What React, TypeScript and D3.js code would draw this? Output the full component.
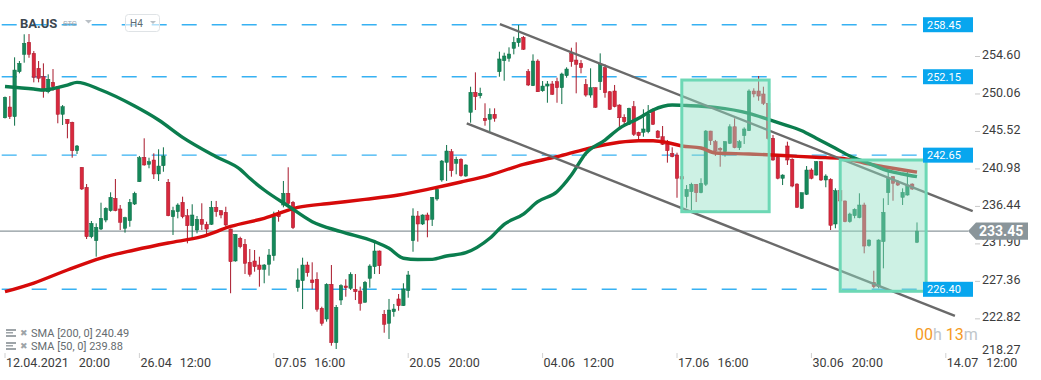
import React from "react";
import * as d3 from "d3";

// ---- candle data (BA.US, H4) ----
const openP = [
  247.18, 248.48, 247.31, 252.76, 254.86, 256.32, 254.98, 253.17, 252.15, 250.33,
  251.47, 250.94, 247.60, 246.99, 246.63, 243.19, 241.18, 238.75, 232.77, 232.29,
  233.70, 234.79, 235.92, 237.42, 236.13, 233.79, 234.71, 236.73, 239.43, 242.39,
  241.54, 242.06, 240.37, 241.37, 239.36, 235.19, 235.80, 236.94, 235.31, 234.10,
  233.58, 234.88, 234.27, 234.27, 236.33, 235.92, 235.73, 233.70, 229.83, 232.58,
  231.85, 229.67, 229.83, 229.34, 228.82, 229.43, 230.47, 235.61, 236.61, 238.03,
  236.94, 226.59, 227.44, 229.34, 227.53, 227.61, 224.10, 222.80, 227.01, 219.93,
  225.10, 226.80, 226.52, 226.40, 226.19, 224.83, 227.73, 229.14, 231.04, 223.37,
  222.28, 223.69, 225.23, 224.41, 226.23, 232.29, 235.28, 234.31, 235.40, 234.88,
  237.34, 239.64, 241.78, 243.07, 241.66, 242.15, 240.12, 247.84, 250.26, 249.85,
  247.11, 246.99, 247.60, 252.76, 254.09, 254.38, 255.59, 256.27, 256.92, 252.76,
  251.06, 254.05, 250.45, 251.02, 251.27, 251.55, 250.82, 252.27, 254.98, 254.17,
  253.77, 251.23, 249.93, 250.82, 251.55, 253.24, 250.33, 250.42, 248.72, 247.23,
  246.39, 248.52, 245.42, 245.42, 245.49, 248.00, 245.57, 244.88, 244.00, 242.87,
  242.67, 240.04, 237.62, 238.22, 239.12, 238.10, 239.12, 245.57, 244.28, 243.48,
  243.07, 244.08, 246.09, 243.55, 245.01, 245.61, 250.42, 250.42, 250.06, 248.93,
  244.69, 242.39, 239.85, 243.76, 242.15, 239.15, 236.21, 237.91, 240.85, 240.24,
  241.86, 239.64, 239.72, 234.31, 238.34, 237.10, 234.59, 235.31, 235.07, 236.61,
  231.68, 227.25, 226.72, 232.17, 238.10, 240.04, 239.43, 237.54, 237.82, 239.15,
  232.10,
];
const highP = [
  249.75, 249.81, 254.50, 254.05, 257.29, 257.32, 255.26, 254.05, 253.77, 252.44,
  253.08, 250.94, 248.72, 246.99, 246.70, 243.88, 241.18, 239.15, 234.67, 234.39,
  236.89, 236.33, 238.15, 239.76, 236.61, 235.19, 237.34, 238.22, 242.55, 244.69,
  242.34, 242.87, 243.36, 243.60, 239.76, 236.40, 236.82, 237.62, 236.13, 236.70,
  235.28, 236.82, 234.59, 237.10, 237.10, 236.00, 236.40, 233.75, 233.10, 232.77,
  232.49, 231.28, 231.16, 230.35, 229.46, 231.28, 235.80, 236.00, 239.52, 241.18,
  237.10, 228.94, 230.23, 229.74, 229.67, 228.46, 224.29, 227.13, 229.34, 224.50,
  227.01, 227.61, 228.46, 228.25, 226.72, 227.41, 229.43, 232.17, 231.10, 223.89,
  225.23, 224.62, 225.83, 227.13, 228.62, 236.21, 235.88, 235.48, 235.68, 237.58,
  238.63, 242.06, 243.88, 243.39, 242.46, 242.27, 241.54, 250.94, 252.68, 250.82,
  248.93, 248.32, 248.32, 255.18, 255.06, 255.71, 257.00, 258.41, 257.08, 253.08,
  254.86, 254.26, 251.63, 251.63, 251.63, 252.03, 252.64, 253.29, 255.66, 256.32,
  254.17, 251.87, 253.17, 250.85, 254.98, 253.65, 250.42, 251.15, 248.81, 247.60,
  248.40, 249.21, 245.49, 248.20, 248.72, 248.32, 245.69, 246.18, 244.49, 243.60,
  242.95, 240.12, 239.03, 239.31, 239.15, 239.85, 245.69, 245.60, 244.49, 243.60,
  244.36, 246.39, 247.11, 244.49, 246.02, 250.62, 250.75, 252.23, 250.94, 248.95,
  245.09, 242.55, 240.33, 244.28, 242.27, 239.24, 238.12, 241.33, 241.06, 241.94,
  241.94, 240.33, 239.85, 238.63, 238.60, 237.15, 235.68, 236.21, 238.03, 236.89,
  232.45, 228.65, 232.45, 237.42, 240.64, 240.12, 239.64, 238.63, 240.64, 239.24,
  234.50,
];
const lowP = [
  247.09, 247.03, 246.22, 252.56, 253.85, 254.45, 251.47, 251.47, 249.61, 250.14,
  250.45, 246.51, 246.30, 244.69, 242.34, 242.79, 238.43, 232.49, 232.58, 230.35,
  233.58, 234.52, 235.80, 235.85, 233.58, 233.26, 233.98, 236.61, 239.40, 241.37,
  241.06, 239.76, 239.52, 240.64, 235.25, 232.98, 235.00, 235.00, 231.97, 232.58,
  233.18, 233.58, 233.06, 234.19, 235.19, 235.00, 233.98, 225.92, 229.75, 231.37,
  228.25, 227.93, 228.53, 226.72, 227.13, 228.05, 229.86, 234.59, 236.33, 236.40,
  233.70, 226.11, 224.01, 227.93, 226.40, 223.69, 221.99, 222.48, 219.57, 219.17,
  224.50, 225.50, 226.32, 225.10, 223.81, 224.78, 226.59, 228.25, 228.25, 221.14,
  220.38, 223.08, 223.81, 224.38, 225.38, 230.95, 232.17, 234.19, 232.70, 234.07,
  237.13, 239.43, 239.52, 240.04, 240.33, 240.04, 240.04, 246.58, 248.12, 249.53,
  246.22, 245.49, 246.70, 252.15, 251.67, 253.97, 254.86, 255.78, 255.40, 251.02,
  251.02, 250.30, 250.33, 249.00, 249.94, 249.00, 248.84, 252.03, 253.36, 250.14,
  252.56, 249.73, 249.61, 248.40, 250.54, 249.61, 248.12, 248.44, 245.97, 246.18,
  246.30, 244.97, 244.49, 244.88, 245.30, 246.30, 244.69, 243.88, 241.74, 242.39,
  237.49, 239.64, 236.28, 236.00, 236.97, 238.03, 238.91, 243.88, 242.55, 241.25,
  242.46, 244.00, 243.48, 243.27, 244.00, 245.57, 249.66, 249.24, 248.72, 244.50,
  241.98, 239.72, 239.03, 241.46, 238.76, 236.28, 236.13, 237.82, 239.72, 240.16,
  239.52, 238.76, 233.58, 233.79, 236.80, 234.52, 234.47, 235.00, 235.00, 230.76,
  231.56, 226.52, 226.52, 228.94, 236.61, 237.13, 238.91, 236.61, 237.74, 238.43,
  232.00,
];
const closeP = [
  249.66, 247.31, 252.96, 253.77, 256.20, 254.86, 252.08, 251.96, 250.42, 251.84,
  250.94, 247.60, 248.52, 246.46, 243.19, 243.76, 238.55, 232.77, 234.39, 233.91,
  235.00, 236.21, 237.54, 235.92, 234.52, 235.07, 236.94, 238.03, 242.34, 241.46,
  241.86, 240.37, 241.33, 242.55, 235.31, 235.92, 236.61, 235.19, 234.10, 235.40,
  234.88, 234.27, 233.70, 236.33, 235.80, 235.40, 234.19, 229.74, 233.06, 231.56,
  229.55, 228.22, 229.14, 228.82, 229.34, 230.55, 235.19, 235.19, 238.03, 236.82,
  233.86, 227.53, 229.34, 228.41, 227.20, 223.98, 222.28, 227.01, 219.93, 224.22,
  226.84, 226.59, 228.22, 226.11, 224.70, 227.25, 229.22, 231.04, 229.26, 222.16,
  223.89, 224.01, 224.41, 226.44, 228.13, 235.28, 234.31, 235.40, 234.79, 237.54,
  238.51, 241.94, 243.15, 240.77, 242.15, 240.16, 241.46, 250.26, 249.73, 250.14,
  246.82, 247.60, 247.11, 254.30, 254.66, 254.90, 256.32, 256.80, 255.47, 251.15,
  254.05, 250.33, 251.02, 251.27, 250.02, 250.82, 252.48, 253.08, 253.97, 253.65,
  253.24, 249.93, 250.82, 248.44, 253.65, 250.21, 248.20, 248.52, 247.18, 246.70,
  248.32, 245.17, 245.01, 245.82, 247.60, 246.39, 244.76, 243.96, 243.19, 242.46,
  239.85, 239.76, 238.51, 239.12, 238.10, 239.24, 245.57, 244.40, 243.15, 243.27,
  244.28, 246.09, 243.55, 244.28, 245.82, 250.42, 250.06, 249.81, 248.93, 244.69,
  242.06, 239.85, 240.24, 242.06, 238.91, 236.33, 238.10, 240.85, 239.85, 241.86,
  239.64, 240.12, 234.15, 238.34, 237.10, 234.59, 235.52, 236.09, 236.61, 231.64,
  232.37, 226.72, 232.37, 235.73, 239.97, 239.24, 239.03, 238.15, 239.03, 238.55,
  233.45,
];

// ---- moving averages ----
const sma200Idx = [0, 6, 13, 20, 27, 34, 41, 47, 54, 61, 68, 75, 82, 89, 95, 101, 108, 115, 121, 128, 132, 135, 138, 141, 145, 148, 155, 162, 169, 174, 179, 183, 190];
const sma200Val = [226.11, 227.16, 228.74, 230.19, 231.16, 232.01, 232.77, 234.01, 235.00, 236.33, 236.82, 237.30, 237.82, 238.63, 239.40, 240.24, 241.54, 242.46, 243.39, 244.21, 244.40, 244.40, 244.18, 243.76, 243.52, 242.91, 242.79, 242.61, 242.39, 242.27, 241.70, 241.25, 240.60];
const sma50Idx = [0, 6, 8, 13, 15, 20, 27, 32, 37, 44, 49, 51, 54, 59, 64, 70, 77, 80, 83, 86, 89, 92, 96, 101, 104, 108, 111, 115, 118, 121, 125, 128, 132, 135, 139, 142, 148, 155, 159, 162, 166, 169, 173, 176, 180, 183, 187, 190];
const sma50Val = [250.96, 250.66, 250.54, 251.14, 251.47, 250.54, 248.60, 246.91, 244.81, 242.46, 240.93, 239.84, 238.43, 236.49, 234.59, 233.38, 232.17, 231.37, 230.16, 230.01, 230.03, 230.43, 230.83, 232.58, 234.27, 235.52, 237.01, 238.22, 240.24, 242.87, 244.48, 245.90, 247.11, 248.12, 248.72, 248.66, 248.44, 247.72, 246.99, 246.42, 245.61, 244.69, 243.48, 242.55, 241.66, 240.94, 240.37, 240.04];

// ---- axes ----
const yTicks = [254.6, 250.06, 245.52, 240.98, 236.44, 231.9, 227.36, 222.82, 218.27];
const xTickIdx = [0, 28, 56, 84, 112, 140, 168, 196];
const xTickDates = ["12.04.2021", "26.04", "07.05", "20.05", "04.06", "17.06", "30.06", "14.07"];
const xTickTimes = ["20:00", "12:00", "16:00", "20:00", "12:00", "16:00", "20:00", "12:00"];

// ---- drawings ----
const levels = [258.45, 252.15, 242.65, 226.4];
const lastPrice = 233.45;
const channelUpperIdx = [103.1, 201.6];
const channelUpperVal = [258.53, 235.88];
const channelLowerIdx = [96.2, 197.9];
const channelLowerVal = [246.51, 223.17];
const boxIdx0 = [141, 174];
const boxIdx1 = [159.2, 191.9];
const boxTop = [251.75, 242.06];
const boxBottom = [235.8, 226.16];

const legendNames = ["SMA [200,  0]", "SMA [50,  0]"];
const legendValues = ["240.49", "239.88"];

const W = 1041;
const H = 380;
const FONT = "Roboto, 'Open Sans', sans-serif";
const GREEN = "#15885a";
const GREEN_D = "#0d6f47";
const RED = "#d8283d";
const RED_D = "#a8182a";

export default function App() {
  const x = d3.scaleLinear().domain([0, 190]).range([5, 917]);
  const y = d3.scaleLinear().domain([226.4, 254.6]).range([289.3, 56.5]);

  const lineGen = d3
    .line<[number, number]>()
    .x((d) => x(d[0]))
    .y((d) => y(d[1]))
    .curve(d3.curveMonotoneX);

  const sma200 = lineGen(sma200Idx.map((i, k) => [i, sma200Val[k]] as [number, number])) || "";
  const sma50 = lineGen(sma50Idx.map((i, k) => [i, sma50Val[k]] as [number, number])) || "";

  const bodyW = 3.4;

  return (
    <svg
      width={W}
      height={H}
      style={{ position: "fixed", left: 0, top: 0, background: "#fff", fontFamily: FONT }}
    >
      <rect x={0} y={0} width={W} height={H} fill="#fff" />

      {/* level lines */}
      {levels.map((lv) => (
        <line
          key={"lv" + lv}
          x1={1.7}
          x2={918}
          y1={y(lv)}
          y2={y(lv)}
          stroke="#22a9f2"
          strokeWidth={1.4}
          strokeDasharray="15 15"
          opacity={0.9}
        />
      ))}

      {/* current price line */}
      <line x1={0} x2={968} y1={y(lastPrice)} y2={y(lastPrice)} stroke="#8c979c" strokeWidth={1.2} />

      {/* candles */}
      {openP.map((o, i) => {
        const c = closeP[i];
        const up = c >= o;
        const col = up ? GREEN : RED;
        const dcol = up ? GREEN_D : RED_D;
        const cx = x(i);
        const top = y(Math.max(o, c));
        const bot = y(Math.min(o, c));
        return (
          <g key={"c" + i}>
            <line x1={cx} x2={cx} y1={y(highP[i])} y2={y(lowP[i])} stroke={dcol} strokeWidth={1} />
            <rect
              x={cx - bodyW / 2}
              y={top}
              width={bodyW}
              height={Math.max(1.2, bot - top)}
              fill={col}
              stroke={dcol}
              strokeWidth={0.5}
            />
          </g>
        );
      })}

      {/* SMA lines */}
      <path d={sma200} fill="none" stroke="#d60a0a" strokeWidth={3.4} strokeLinejoin="round" />
      <path d={sma50} fill="none" stroke="#0b7d4e" strokeWidth={3.4} strokeLinejoin="round" />

      {/* channel */}
      <line
        x1={x(channelUpperIdx[0])}
        y1={y(channelUpperVal[0])}
        x2={x(channelUpperIdx[1])}
        y2={y(channelUpperVal[1])}
        stroke="#6a6a6a"
        strokeWidth={2.4}
      />
      <line
        x1={x(channelLowerIdx[0])}
        y1={y(channelLowerVal[0])}
        x2={x(channelLowerIdx[1])}
        y2={y(channelLowerVal[1])}
        stroke="#6a6a6a"
        strokeWidth={2.4}
      />

      {/* boxes */}
      {boxIdx0.map((i0, k) => (
        <rect
          key={"box" + k}
          x={x(i0)}
          y={y(boxTop[k])}
          width={x(boxIdx1[k]) - x(i0)}
          height={y(boxBottom[k]) - y(boxTop[k])}
          fill="rgb(144,224,195)"
          fillOpacity={0.45}
          stroke="#6dd8b5"
          strokeWidth={3}
        />
      ))}

      {/* level labels */}
      {levels.map((lv) => (
        <g key={"lvl" + lv}>
          <rect x={923} y={y(lv) - 7.5} width={50} height={15} fill="#08a6ee" />
          <text x={927} y={y(lv)} dy="0.35em" fontSize={11} fill="#fff">
            {lv.toFixed(2)}
          </text>
        </g>
      ))}

      {/* y axis */}
      {yTicks.map((t) => {
        const yy = Math.min(y(t), 351);
        return (
          <g key={"yt" + t}>
            {y(t) < 340 && <line x1={975} x2={980} y1={yy} y2={yy} stroke="#c8c8c8" strokeWidth={1} />}
            <text x={982} y={yy - 1.8} dy="0.35em" fontSize={12.5} fill="#3c3c3c">
              {t.toFixed(2)}
            </text>
          </g>
        );
      })}

      {/* last price label */}
      <path
        d={`M968,${y(lastPrice)} L976,${y(lastPrice) - 8.6} L1028,${y(lastPrice) - 8.6} L1028,${y(lastPrice) + 8.6} L976,${y(lastPrice) + 8.6} Z`}
        fill="#8a959a"
      />
      <text x={979} y={y(lastPrice)} dy="0.36em" fontSize={14} fontWeight={700} fill="#fff">
        {lastPrice.toFixed(2)}
      </text>

      {/* x axis */}
      {xTickIdx.map((i, k) => (
        <g key={"xt" + i}>
          <line x1={x(i)} x2={x(i)} y1={353} y2={358} stroke="#d0d0d0" strokeWidth={1} />
          <text x={x(i) + 1} y={362.5} dy="0.35em" fontSize={12.5} fill="#3c3c3c">
            {xTickDates[k]}
            <tspan dx={k === 0 ? 10 : 8}>{xTickTimes[k]}</tspan>
          </text>
        </g>
      ))}

      {/* header */}
      <text x={20} y={23} dy="0.35em" fontSize={13} fontWeight={700} fill="#3b4650">
        BA.US
      </text>
      <text x={63} y={23.5} dy="0.35em" fontSize={7.5} fill="#9aa8b2" textDecoration="line-through">
        STC
      </text>
      <path d="M85,20 L92,20 L88.5,23.5 Z" fill="#b9c0c6" />
      <rect x={125.5} y={14.5} width={34} height={17} rx={3} fill="#fff" fillOpacity={0.6} stroke="#dfe3e6" />
      <text x={130} y={23} dy="0.35em" fontSize={10} fill="#5d6a73">
        H4
      </text>
      <path d="M150,21 L156,21 L153,24 Z" fill="#b9c0c6" />

      {/* legend */}
      {legendNames.map((nm, k) => {
        const ly = 333 + k * 13;
        return (
          <g key={"lg" + k}>
            <rect x={6} y={ly - 4} width={10} height={2} fill="#9ea4a8" />
            <rect x={6} y={ly - 1} width={7} height={1.5} fill="#9ea4a8" />
            <rect x={6} y={ly + 2} width={10} height={2} fill="#9ea4a8" />
            <text x={19.5} y={ly} dy="0.35em" fontSize={9} fill="#9ea4a8">
              ✖
            </text>
            <text x={31} y={ly + 0.5} dy="0.35em" fontSize={11} fill="#666c70">
              {nm} {legendValues[k]}
            </text>
          </g>
        );
      })}

      {/* timer */}
      <text x={915} y={334} dy="0.35em" fontSize={16} fill="#f59a23">
        00<tspan fill="#c0c6ca">h</tspan>
        <tspan dx={4}>13</tspan>
        <tspan fill="#c0c6ca">m</tspan>
      </text>
    </svg>
  );
}
